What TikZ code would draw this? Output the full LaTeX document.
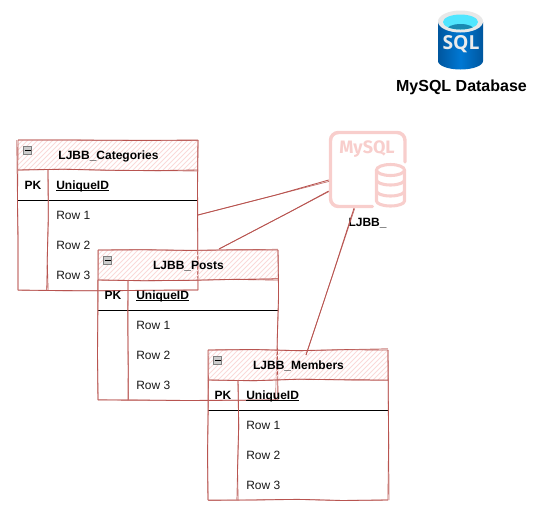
\documentclass[tikz,border=0pt]{standalone}
\usepackage{fontspec}
\setmainfont{Liberation Sans}
\newfontfamily\iconfont{Fira Sans}
\newfontfamily\sqlfont{Open Sans}
\usetikzlibrary{decorations.pathmorphing,calc}
\definecolor{skred}{HTML}{B85450}
\definecolor{skpink}{HTML}{F8CECC}
\definecolor{azdark}{HTML}{00569E}
\definecolor{azmid}{HTML}{0078D4}
\definecolor{azrim}{HTML}{E8E8E8}
\definecolor{azcyan}{HTML}{50E6FF}
\definecolor{azdeep}{HTML}{198AB3}
\newcommand{\ulbase}[1]{\setbox0\hbox{#1}\rlap{\rule[-1.1pt]{\wd0}{.7pt}}\box0}
\tikzset{
  x=.75pt,y=-.75pt,
  wob/.style={decorate,decoration={random steps,segment length=#1,amplitude=.7pt},rounded corners=1.5pt},
  wob/.default=34pt,
  plainbox/.style={inner sep=0pt,outer sep=0pt,anchor=north west},
  skline/.style={draw=skred,line width=.65pt,wob,preaction={draw=skred!75,line width=.5pt,wob}},
  conn/.style={draw=skred,line width=.65pt,wob=60pt,preaction={draw=skred!85,line width=.5pt,wob=60pt}},
  hach/.style={draw=skpink!75,line width=.55pt},
  ttl/.style={font=\bfseries\fontsize{9}{11}\selectfont,inner sep=0pt,anchor=base},
  celltxt/.style={font=\fontsize{9}{11}\selectfont,anchor=base west,inner sep=0pt,text=black!90},
  cellhd/.style={font=\bfseries\fontsize{9}{11}\selectfont,inner sep=0pt,anchor=base},
  icon/.style={draw=skpink,line width=2.6pt},
}
\newcommand{\ertable}[4]{%
\begin{scope}[shift={(#2,#3)}]
  \begin{scope}
    \clip (0,0) rectangle (180,30);
    \foreach \i in {-30,-25,...,180} \draw[hach] (\i,30) -- (\i+30,0);
  \end{scope}
  \node[plainbox,minimum width=135pt,minimum height=22.5pt] (#1head) at (0,0) {};
  \node[plainbox,minimum width=135pt,minimum height=112.5pt] (#1) at (0,0) {};
  \draw[black,line width=.75pt] (0,60) -- (180,60);
  \foreach \n/\a/\b in {#1/north west/north east,#1/north east/south east,#1/south east/south west,#1/south west/north west,#1head/south west/south east}
    \path[skline] (\n.\a) -- (\n.\b);
  \path[skline] (30,30) -- (30,150);
  \node[draw=black!50,fill=black!20,minimum width=6.2pt,minimum height=6.2pt,inner sep=0pt,line width=.4pt] (#1min) at (9.5,10) {};
  \draw[black,line width=.6pt] ($(#1min.center)+(-3,0)$) -- ($(#1min.center)+(3,0)$);
  \node[ttl] (#1title) at (90.5,19.3) {#4};
  \node[cellhd] (#1pk) at (15,49.3) {PK};
  \node[cellhd,anchor=base west] (#1id) at (38,49.3) {\ulbase{UniqueID}};
  \node[celltxt] (#1r1) at (38,79.3) {Row 1};
  \node[celltxt] (#1r2) at (38,109.3) {Row 2};
  \node[celltxt] (#1r3) at (38,139.3) {Row 3};
\end{scope}}
\begin{document}
\begin{tikzpicture}
\pgfmathsetseed{11}
\useasboundingbox (0,0) rectangle (535,515);
% Azure SQL icon
\path[left color=azdark,right color=azdark,middle color=azmid]
  (438,22) -- (438,61) arc[x radius=22.5,y radius=8.5,start angle=180,end angle=0] -- (483,22) -- cycle;
\fill[azrim] (460.5,21.5) ellipse[x radius=22.5,y radius=11];
\fill[azcyan] (460.5,22) ellipse[x radius=17.5,y radius=7.5];
\begin{scope}
  \clip (460.5,22) ellipse[x radius=17.5,y radius=7.5];
  \fill[azdeep] (460.5,30) ellipse[x radius=14,y radius=6];
\end{scope}
\node[font=\sqlfont\bfseries\fontsize{14.5}{16}\selectfont,text=white!92!black,inner sep=0pt] (sqlmark) at (461,44) {SQL};
\node[font=\bfseries\fontsize{12}{14}\selectfont,inner sep=0pt] (dbtitle) at (461.5,87) {MySQL Database};
% MySQL icon
\node[minimum width=57.75pt,minimum height=57.75pt,inner sep=0pt] (mysql) at (367.5,169.5) {};
\draw[icon,line cap=round,rounded corners=6pt] (405,162) -- (405,132.5) -- (330.5,132.5) -- (330.5,206.5) -- (372.5,206.5);
\node[font=\iconfont\bfseries\fontsize{13.5}{15}\selectfont,text=skpink,inner sep=0pt] (mysqlmark) at (367,149) {MySQL};
\draw[icon,line width=2.3pt] (390.5,170) ellipse[x radius=14,y radius=5.5];
\draw[icon,line width=2.3pt] (376.5,170) -- (376.5,201) arc[x radius=14,y radius=5,start angle=180,end angle=0] -- (404.5,170);
\draw[icon,line width=2.3pt] (376.5,180) arc[x radius=14,y radius=5,start angle=180,end angle=0];
\draw[icon,line width=2.3pt] (376.5,191) arc[x radius=14,y radius=5,start angle=180,end angle=0];
\node[ttl] (mysqllabel) at (367.5,226) {LJBB\_};
% Tables
\ertable{cat}{18}{140}{LJBB\_Categories}
\ertable{post}{98}{250}{LJBB\_Posts}
\ertable{mem}{208}{350}{LJBB\_Members}
% Connectors
\path[conn] ($(cat.north east)+(0,75)$) -- ($(mysql.west)+(0,10.5)$);
\path[conn] ($(post.north west)+(121,-1)$) -- ($(mysql.west)+(0,21.5)$);
\path[conn] ($(mem.north west)+(98,5)$) -- ($(mysql.south)+(-13.5,0)$);
\end{tikzpicture}
\end{document}
